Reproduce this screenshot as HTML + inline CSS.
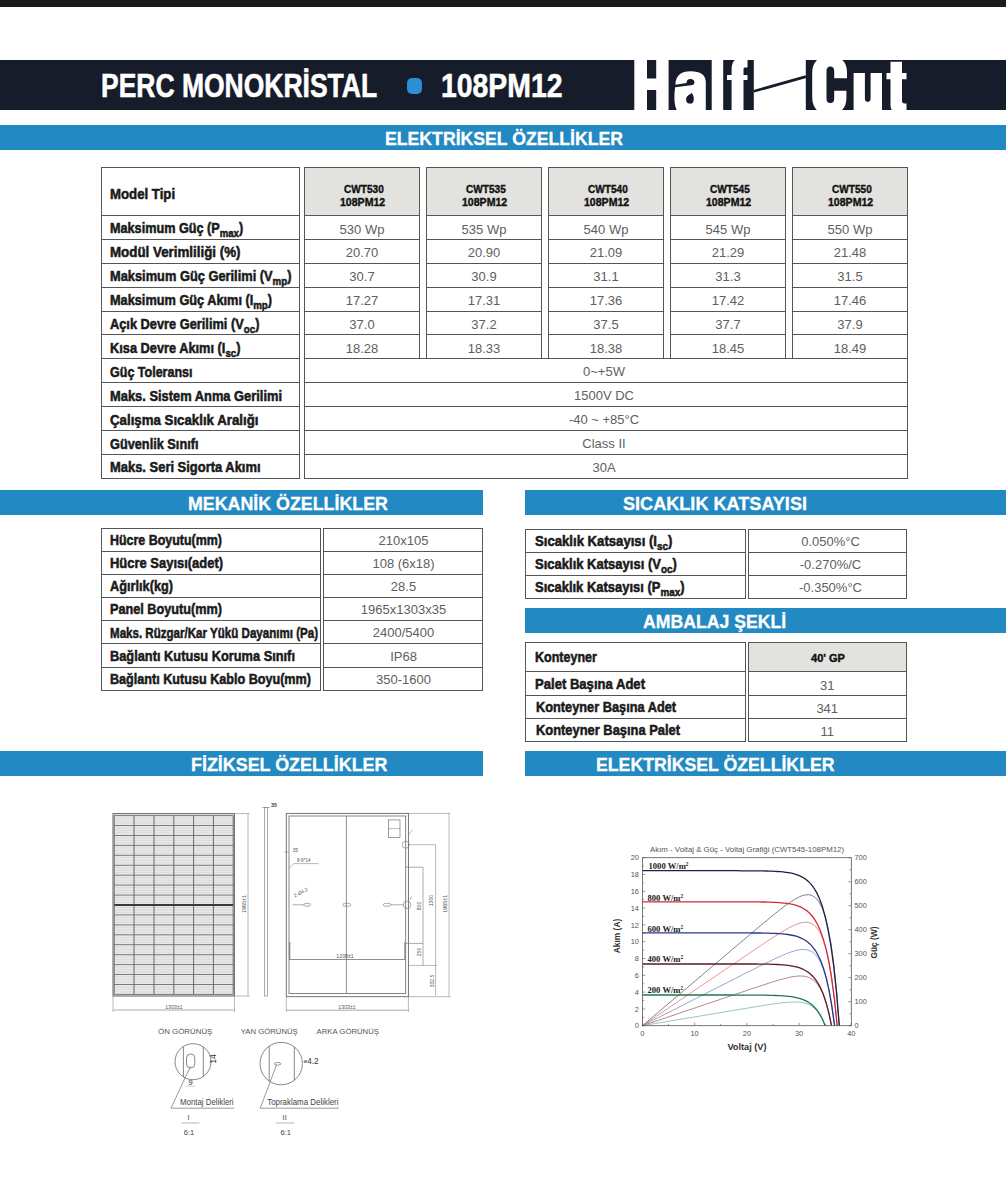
<!DOCTYPE html>
<html><head><meta charset="utf-8"><title>PERC Monokristal 108PM12</title>
<style>
html,body{margin:0;padding:0;background:#fff}
body{width:1006px;height:1200px;position:relative;overflow:hidden;font-family:"Liberation Sans",sans-serif}
.a{position:absolute}
.t{white-space:nowrap;display:inline-block;transform-origin:0 50%}
.c{text-align:center;white-space:nowrap}
sub{font-size:76%;vertical-align:baseline;position:relative;top:0.34em;line-height:0}
</style></head><body>
<div class="a" style="left:0px;top:0px;width:1006px;height:7px;background:#1b1b1b;"></div>
<div class="a" style="left:0px;top:60px;width:1006px;height:50px;background:#161c29;"></div>
<div class="a" style="left:0px;top:125px;width:1006px;height:25px;background:#2289c2;"></div>
<div class="a" style="left:406.5px;top:77.5px;width:15.5px;height:16px;background:#2a8fd4;border-radius:5px;"></div>
<div class="a" style="left:0px;top:490.2px;width:483px;height:25px;background:#2289c2;"></div>
<div class="a" style="left:525px;top:490.2px;width:481px;height:25px;background:#2289c2;"></div>
<div class="a" style="left:525px;top:608.3px;width:481px;height:25.2px;background:#2289c2;"></div>
<div class="a" style="left:0px;top:751.4px;width:483px;height:25px;background:#2289c2;"></div>
<div class="a" style="left:525px;top:751.4px;width:481px;height:25px;background:#2289c2;"></div>
<div class="a" style="left:101px;top:166.7px;width:199px;height:312.09999999999997px;border:1px solid #555;box-sizing:border-box;"></div>
<div class="a" style="left:101px;top:214.9px;width:199px;height:1px;background:#555;"></div>
<div class="a" style="left:101px;top:238.8px;width:199px;height:1px;background:#555;"></div>
<div class="a" style="left:101px;top:262.7px;width:199px;height:1px;background:#555;"></div>
<div class="a" style="left:101px;top:286.6px;width:199px;height:1px;background:#555;"></div>
<div class="a" style="left:101px;top:310.5px;width:199px;height:1px;background:#555;"></div>
<div class="a" style="left:101px;top:334.4px;width:199px;height:1px;background:#555;"></div>
<div class="a" style="left:101px;top:358.29999999999995px;width:199px;height:1px;background:#555;"></div>
<div class="a" style="left:101px;top:382.2px;width:199px;height:1px;background:#555;"></div>
<div class="a" style="left:101px;top:406.1px;width:199px;height:1px;background:#555;"></div>
<div class="a" style="left:101px;top:430.0px;width:199px;height:1px;background:#555;"></div>
<div class="a" style="left:101px;top:453.9px;width:199px;height:1px;background:#555;"></div>
<div class="a" style="left:304px;top:166.7px;width:116px;height:192.59999999999997px;border:1px solid #555;box-sizing:border-box;"></div>
<div class="a" style="left:304px;top:166.7px;width:116px;height:49.20000000000002px;background:#e2e2de;border:1px solid #555;box-sizing:border-box;"></div>
<div class="a" style="left:304px;top:238.8px;width:116px;height:1px;background:#555;"></div>
<div class="a" style="left:304px;top:262.7px;width:116px;height:1px;background:#555;"></div>
<div class="a" style="left:304px;top:286.6px;width:116px;height:1px;background:#555;"></div>
<div class="a" style="left:304px;top:310.5px;width:116px;height:1px;background:#555;"></div>
<div class="a" style="left:304px;top:334.4px;width:116px;height:1px;background:#555;"></div>
<div class="a c" style="left:304px;width:116px;top:220.5px;line-height:17px;font-size:13px;color:#606060">530 Wp</div>
<div class="a c" style="left:304px;width:116px;top:244.4px;line-height:17px;font-size:13px;color:#606060">20.70</div>
<div class="a c" style="left:304px;width:116px;top:268.3px;line-height:17px;font-size:13px;color:#606060">30.7</div>
<div class="a c" style="left:304px;width:116px;top:292.2px;line-height:17px;font-size:13px;color:#606060">17.27</div>
<div class="a c" style="left:304px;width:116px;top:316.1px;line-height:17px;font-size:13px;color:#606060">37.0</div>
<div class="a c" style="left:304px;width:116px;top:340.0px;line-height:17px;font-size:13px;color:#606060">18.28</div>
<div class="a" style="left:426px;top:166.7px;width:116px;height:192.59999999999997px;border:1px solid #555;box-sizing:border-box;"></div>
<div class="a" style="left:426px;top:166.7px;width:116px;height:49.20000000000002px;background:#e2e2de;border:1px solid #555;box-sizing:border-box;"></div>
<div class="a" style="left:426px;top:238.8px;width:116px;height:1px;background:#555;"></div>
<div class="a" style="left:426px;top:262.7px;width:116px;height:1px;background:#555;"></div>
<div class="a" style="left:426px;top:286.6px;width:116px;height:1px;background:#555;"></div>
<div class="a" style="left:426px;top:310.5px;width:116px;height:1px;background:#555;"></div>
<div class="a" style="left:426px;top:334.4px;width:116px;height:1px;background:#555;"></div>
<div class="a c" style="left:426px;width:116px;top:220.5px;line-height:17px;font-size:13px;color:#606060">535 Wp</div>
<div class="a c" style="left:426px;width:116px;top:244.4px;line-height:17px;font-size:13px;color:#606060">20.90</div>
<div class="a c" style="left:426px;width:116px;top:268.3px;line-height:17px;font-size:13px;color:#606060">30.9</div>
<div class="a c" style="left:426px;width:116px;top:292.2px;line-height:17px;font-size:13px;color:#606060">17.31</div>
<div class="a c" style="left:426px;width:116px;top:316.1px;line-height:17px;font-size:13px;color:#606060">37.2</div>
<div class="a c" style="left:426px;width:116px;top:340.0px;line-height:17px;font-size:13px;color:#606060">18.33</div>
<div class="a" style="left:548px;top:166.7px;width:116px;height:192.59999999999997px;border:1px solid #555;box-sizing:border-box;"></div>
<div class="a" style="left:548px;top:166.7px;width:116px;height:49.20000000000002px;background:#e2e2de;border:1px solid #555;box-sizing:border-box;"></div>
<div class="a" style="left:548px;top:238.8px;width:116px;height:1px;background:#555;"></div>
<div class="a" style="left:548px;top:262.7px;width:116px;height:1px;background:#555;"></div>
<div class="a" style="left:548px;top:286.6px;width:116px;height:1px;background:#555;"></div>
<div class="a" style="left:548px;top:310.5px;width:116px;height:1px;background:#555;"></div>
<div class="a" style="left:548px;top:334.4px;width:116px;height:1px;background:#555;"></div>
<div class="a c" style="left:548px;width:116px;top:220.5px;line-height:17px;font-size:13px;color:#606060">540 Wp</div>
<div class="a c" style="left:548px;width:116px;top:244.4px;line-height:17px;font-size:13px;color:#606060">21.09</div>
<div class="a c" style="left:548px;width:116px;top:268.3px;line-height:17px;font-size:13px;color:#606060">31.1</div>
<div class="a c" style="left:548px;width:116px;top:292.2px;line-height:17px;font-size:13px;color:#606060">17.36</div>
<div class="a c" style="left:548px;width:116px;top:316.1px;line-height:17px;font-size:13px;color:#606060">37.5</div>
<div class="a c" style="left:548px;width:116px;top:340.0px;line-height:17px;font-size:13px;color:#606060">18.38</div>
<div class="a" style="left:670px;top:166.7px;width:116px;height:192.59999999999997px;border:1px solid #555;box-sizing:border-box;"></div>
<div class="a" style="left:670px;top:166.7px;width:116px;height:49.20000000000002px;background:#e2e2de;border:1px solid #555;box-sizing:border-box;"></div>
<div class="a" style="left:670px;top:238.8px;width:116px;height:1px;background:#555;"></div>
<div class="a" style="left:670px;top:262.7px;width:116px;height:1px;background:#555;"></div>
<div class="a" style="left:670px;top:286.6px;width:116px;height:1px;background:#555;"></div>
<div class="a" style="left:670px;top:310.5px;width:116px;height:1px;background:#555;"></div>
<div class="a" style="left:670px;top:334.4px;width:116px;height:1px;background:#555;"></div>
<div class="a c" style="left:670px;width:116px;top:220.5px;line-height:17px;font-size:13px;color:#606060">545 Wp</div>
<div class="a c" style="left:670px;width:116px;top:244.4px;line-height:17px;font-size:13px;color:#606060">21.29</div>
<div class="a c" style="left:670px;width:116px;top:268.3px;line-height:17px;font-size:13px;color:#606060">31.3</div>
<div class="a c" style="left:670px;width:116px;top:292.2px;line-height:17px;font-size:13px;color:#606060">17.42</div>
<div class="a c" style="left:670px;width:116px;top:316.1px;line-height:17px;font-size:13px;color:#606060">37.7</div>
<div class="a c" style="left:670px;width:116px;top:340.0px;line-height:17px;font-size:13px;color:#606060">18.45</div>
<div class="a" style="left:792px;top:166.7px;width:116px;height:192.59999999999997px;border:1px solid #555;box-sizing:border-box;"></div>
<div class="a" style="left:792px;top:166.7px;width:116px;height:49.20000000000002px;background:#e2e2de;border:1px solid #555;box-sizing:border-box;"></div>
<div class="a" style="left:792px;top:238.8px;width:116px;height:1px;background:#555;"></div>
<div class="a" style="left:792px;top:262.7px;width:116px;height:1px;background:#555;"></div>
<div class="a" style="left:792px;top:286.6px;width:116px;height:1px;background:#555;"></div>
<div class="a" style="left:792px;top:310.5px;width:116px;height:1px;background:#555;"></div>
<div class="a" style="left:792px;top:334.4px;width:116px;height:1px;background:#555;"></div>
<div class="a c" style="left:792px;width:116px;top:220.5px;line-height:17px;font-size:13px;color:#606060">550 Wp</div>
<div class="a c" style="left:792px;width:116px;top:244.4px;line-height:17px;font-size:13px;color:#606060">21.48</div>
<div class="a c" style="left:792px;width:116px;top:268.3px;line-height:17px;font-size:13px;color:#606060">31.5</div>
<div class="a c" style="left:792px;width:116px;top:292.2px;line-height:17px;font-size:13px;color:#606060">17.46</div>
<div class="a c" style="left:792px;width:116px;top:316.1px;line-height:17px;font-size:13px;color:#606060">37.9</div>
<div class="a c" style="left:792px;width:116px;top:340.0px;line-height:17px;font-size:13px;color:#606060">18.49</div>
<div class="a" style="left:304px;top:358.29999999999995px;width:604px;height:120.5px;border:1px solid #555;box-sizing:border-box;"></div>
<div class="a" style="left:304px;top:382.2px;width:604px;height:1px;background:#555;"></div>
<div class="a" style="left:304px;top:406.1px;width:604px;height:1px;background:#555;"></div>
<div class="a" style="left:304px;top:430.0px;width:604px;height:1px;background:#555;"></div>
<div class="a" style="left:304px;top:453.9px;width:604px;height:1px;background:#555;"></div>
<div class="a c" style="left:302px;width:604px;top:363.3px;line-height:17px;font-size:13px;color:#606060">0~+5W</div>
<div class="a c" style="left:302px;width:604px;top:387.2px;line-height:17px;font-size:13px;color:#606060">1500V DC</div>
<div class="a c" style="left:302px;width:604px;top:411.1px;line-height:17px;font-size:13px;color:#606060">-40 ~ +85°C</div>
<div class="a c" style="left:302px;width:604px;top:435.0px;line-height:17px;font-size:13px;color:#606060">Class II</div>
<div class="a c" style="left:302px;width:604px;top:458.9px;line-height:17px;font-size:13px;color:#606060">30A</div>
<div class="a" style="left:101px;top:528px;width:220px;height:163px;border:1px solid #555;box-sizing:border-box;"></div>
<div class="a" style="left:323.3px;top:528px;width:160.2px;height:163px;border:1px solid #555;box-sizing:border-box;"></div>
<div class="a" style="left:101px;top:550.7px;width:220px;height:1px;background:#555;"></div>
<div class="a" style="left:323.3px;top:550.7px;width:160.2px;height:1px;background:#555;"></div>
<div class="a" style="left:101px;top:573.8px;width:220px;height:1px;background:#555;"></div>
<div class="a" style="left:323.3px;top:573.8px;width:160.2px;height:1px;background:#555;"></div>
<div class="a" style="left:101px;top:597.0px;width:220px;height:1px;background:#555;"></div>
<div class="a" style="left:323.3px;top:597.0px;width:160.2px;height:1px;background:#555;"></div>
<div class="a" style="left:101px;top:620.3px;width:220px;height:1px;background:#555;"></div>
<div class="a" style="left:323.3px;top:620.3px;width:160.2px;height:1px;background:#555;"></div>
<div class="a" style="left:101px;top:643.4px;width:220px;height:1px;background:#555;"></div>
<div class="a" style="left:323.3px;top:643.4px;width:160.2px;height:1px;background:#555;"></div>
<div class="a" style="left:101px;top:666.5px;width:220px;height:1px;background:#555;"></div>
<div class="a" style="left:323.3px;top:666.5px;width:160.2px;height:1px;background:#555;"></div>
<div class="a c" style="left:323.5px;width:160.0px;top:531.8px;line-height:17px;font-size:13px;color:#606060">210x105</div>
<div class="a c" style="left:323.5px;width:160.0px;top:554.9px;line-height:17px;font-size:13px;color:#606060">108 (6x18)</div>
<div class="a c" style="left:323.5px;width:160.0px;top:578.0px;line-height:17px;font-size:13px;color:#606060">28.5</div>
<div class="a c" style="left:323.5px;width:160.0px;top:601.2px;line-height:17px;font-size:13px;color:#606060">1965x1303x35</div>
<div class="a c" style="left:323.5px;width:160.0px;top:624.4px;line-height:17px;font-size:13px;color:#606060">2400/5400</div>
<div class="a c" style="left:323.5px;width:160.0px;top:647.6px;line-height:17px;font-size:13px;color:#606060">IP68</div>
<div class="a c" style="left:323.5px;width:160.0px;top:670.7px;line-height:17px;font-size:13px;color:#606060">350-1600</div>
<div class="a" style="left:525px;top:528.6px;width:220.5px;height:70.6px;border:1px solid #555;box-sizing:border-box;"></div>
<div class="a" style="left:747.5px;top:528.6px;width:159.5px;height:70.6px;border:1px solid #555;box-sizing:border-box;"></div>
<div class="a" style="left:525px;top:551.9px;width:220.5px;height:1px;background:#555;"></div>
<div class="a" style="left:747.5px;top:551.9px;width:159.5px;height:1px;background:#555;"></div>
<div class="a" style="left:525px;top:575.0px;width:220.5px;height:1px;background:#555;"></div>
<div class="a" style="left:747.5px;top:575.0px;width:159.5px;height:1px;background:#555;"></div>
<div class="a c" style="left:753.5px;width:154.0px;top:532.8px;line-height:17px;font-size:13px;color:#606060">0.050%°C</div>
<div class="a c" style="left:753.5px;width:154.0px;top:556.1px;line-height:17px;font-size:13px;color:#606060">-0.270%/C</div>
<div class="a c" style="left:753.5px;width:154.0px;top:579.1px;line-height:17px;font-size:13px;color:#606060">-0.350%°C</div>
<div class="a" style="left:525px;top:641.8px;width:220.5px;height:100.2px;border:1px solid #555;box-sizing:border-box;"></div>
<div class="a" style="left:747.5px;top:641.8px;width:159.5px;height:100.2px;border:1px solid #555;box-sizing:border-box;"></div>
<div class="a" style="left:747.5px;top:641.8px;width:159.5px;height:30.4px;background:#e2e2de;border:1px solid #555;box-sizing:border-box;"></div>
<div class="a" style="left:525px;top:671.2px;width:220.5px;height:1px;background:#555;"></div>
<div class="a" style="left:747.5px;top:671.2px;width:159.5px;height:1px;background:#555;"></div>
<div class="a" style="left:525px;top:694.7px;width:220.5px;height:1px;background:#555;"></div>
<div class="a" style="left:747.5px;top:694.7px;width:159.5px;height:1px;background:#555;"></div>
<div class="a" style="left:525px;top:717.7px;width:220.5px;height:1px;background:#555;"></div>
<div class="a" style="left:747.5px;top:717.7px;width:159.5px;height:1px;background:#555;"></div>
<div class="a c" style="left:747.5px;width:159.5px;top:676.5px;line-height:17px;font-size:13px;color:#606060">31</div>
<div class="a c" style="left:747.5px;width:159.5px;top:699.7px;line-height:17px;font-size:13px;color:#606060">341</div>
<div class="a c" style="left:747.5px;width:159.5px;top:722.8px;line-height:17px;font-size:13px;color:#606060">11</div>
<span class="a t" style="left:101px;top:65.1px;line-height:41px;font-size:34px;transform:scaleX(0.779);font-weight:bold;color:#fff;-webkit-text-stroke:0.6px #fff">PERC MONOKRİSTAL</span>
<span class="a t" style="left:440.5px;top:65.1px;line-height:41px;font-size:34px;transform:scaleX(0.835);font-weight:bold;color:#fff;-webkit-text-stroke:0.6px #fff">108PM12</span>
<span class="a t" style="left:385px;top:128.8px;line-height:21px;font-size:17.5px;transform:scaleX(1.009);font-weight:bold;color:#fff;-webkit-text-stroke:0.3px #fff">ELEKTRİKSEL ÖZELLİKLER</span>
<span class="a t" style="left:188px;top:493.9px;line-height:21px;font-size:17.5px;transform:scaleX(1.018);font-weight:bold;color:#fff;-webkit-text-stroke:0.3px #fff">MEKANİK ÖZELLİKLER</span>
<span class="a t" style="left:623px;top:493.9px;line-height:21px;font-size:17.5px;transform:scaleX(1.034);font-weight:bold;color:#fff;-webkit-text-stroke:0.3px #fff">SICAKLIK KATSAYISI</span>
<span class="a t" style="left:642.5px;top:612.1px;line-height:21px;font-size:17.5px;transform:scaleX(1.009);font-weight:bold;color:#fff;-webkit-text-stroke:0.3px #fff">AMBALAJ ŞEKLİ</span>
<span class="a t" style="left:190.5px;top:755.1px;line-height:21px;font-size:17.5px;transform:scaleX(1.022);font-weight:bold;color:#fff;-webkit-text-stroke:0.3px #fff">FİZİKSEL ÖZELLİKLER</span>
<span class="a t" style="left:596px;top:755.1px;line-height:21px;font-size:17.5px;transform:scaleX(1.011);font-weight:bold;color:#fff;-webkit-text-stroke:0.3px #fff">ELEKTRİKSEL ÖZELLİKLER</span>
<span class="a t" style="left:343.8px;top:181.6px;line-height:14px;font-size:11.5px;transform:scaleX(0.877);font-weight:bold;color:#111;-webkit-text-stroke:0.4px #111">CWT530</span>
<span class="a t" style="left:339.6px;top:194.8px;line-height:14px;font-size:11.5px;transform:scaleX(0.918);font-weight:bold;color:#111;-webkit-text-stroke:0.4px #111">108PM12</span>
<span class="a t" style="left:465.8px;top:181.6px;line-height:14px;font-size:11.5px;transform:scaleX(0.877);font-weight:bold;color:#111;-webkit-text-stroke:0.4px #111">CWT535</span>
<span class="a t" style="left:461.6px;top:194.8px;line-height:14px;font-size:11.5px;transform:scaleX(0.918);font-weight:bold;color:#111;-webkit-text-stroke:0.4px #111">108PM12</span>
<span class="a t" style="left:587.8px;top:181.6px;line-height:14px;font-size:11.5px;transform:scaleX(0.877);font-weight:bold;color:#111;-webkit-text-stroke:0.4px #111">CWT540</span>
<span class="a t" style="left:583.6px;top:194.8px;line-height:14px;font-size:11.5px;transform:scaleX(0.918);font-weight:bold;color:#111;-webkit-text-stroke:0.4px #111">108PM12</span>
<span class="a t" style="left:709.8px;top:181.6px;line-height:14px;font-size:11.5px;transform:scaleX(0.877);font-weight:bold;color:#111;-webkit-text-stroke:0.4px #111">CWT545</span>
<span class="a t" style="left:705.6px;top:194.8px;line-height:14px;font-size:11.5px;transform:scaleX(0.918);font-weight:bold;color:#111;-webkit-text-stroke:0.4px #111">108PM12</span>
<span class="a t" style="left:831.8px;top:181.6px;line-height:14px;font-size:11.5px;transform:scaleX(0.877);font-weight:bold;color:#111;-webkit-text-stroke:0.4px #111">CWT550</span>
<span class="a t" style="left:827.6px;top:194.8px;line-height:14px;font-size:11.5px;transform:scaleX(0.918);font-weight:bold;color:#111;-webkit-text-stroke:0.4px #111">108PM12</span>
<span class="a t" style="left:109.5px;top:184.5px;line-height:18px;font-size:15.3px;transform:scaleX(0.864);font-weight:bold;color:#1a1a1a;-webkit-text-stroke:0.55px #1a1a1a">Model Tipi</span>
<span class="a t" style="left:109.5px;top:219.4px;line-height:18px;font-size:15.3px;transform:scaleX(0.827);font-weight:bold;color:#1a1a1a;-webkit-text-stroke:0.55px #1a1a1a">Maksimum Güç (P<sub>max</sub>)</span>
<span class="a t" style="left:109.5px;top:243.3px;line-height:18px;font-size:15.3px;transform:scaleX(0.872);font-weight:bold;color:#1a1a1a;-webkit-text-stroke:0.55px #1a1a1a">Modül Verimliliği (%)</span>
<span class="a t" style="left:109.5px;top:267.2px;line-height:18px;font-size:15.3px;transform:scaleX(0.839);font-weight:bold;color:#1a1a1a;-webkit-text-stroke:0.55px #1a1a1a">Maksimum Güç Gerilimi (V<sub>mp</sub>)</span>
<span class="a t" style="left:109.5px;top:291.1px;line-height:18px;font-size:15.3px;transform:scaleX(0.833);font-weight:bold;color:#1a1a1a;-webkit-text-stroke:0.55px #1a1a1a">Maksimum Güç Akımı (I<sub>mp</sub>)</span>
<span class="a t" style="left:109.5px;top:315.0px;line-height:18px;font-size:15.3px;transform:scaleX(0.837);font-weight:bold;color:#1a1a1a;-webkit-text-stroke:0.55px #1a1a1a">Açık Devre Gerilimi (V<sub>oc</sub>)</span>
<span class="a t" style="left:109.5px;top:338.9px;line-height:18px;font-size:15.3px;transform:scaleX(0.836);font-weight:bold;color:#1a1a1a;-webkit-text-stroke:0.55px #1a1a1a">Kısa Devre Akımı (I<sub>sc</sub>)</span>
<span class="a t" style="left:109.5px;top:362.8px;line-height:18px;font-size:15.3px;transform:scaleX(0.818);font-weight:bold;color:#1a1a1a;-webkit-text-stroke:0.55px #1a1a1a">Güç Toleransı</span>
<span class="a t" style="left:109.5px;top:386.7px;line-height:18px;font-size:15.3px;transform:scaleX(0.842);font-weight:bold;color:#1a1a1a;-webkit-text-stroke:0.55px #1a1a1a">Maks. Sistem Anma Gerilimi</span>
<span class="a t" style="left:109.5px;top:410.6px;line-height:18px;font-size:15.3px;transform:scaleX(0.867);font-weight:bold;color:#1a1a1a;-webkit-text-stroke:0.55px #1a1a1a">Çalışma Sıcaklık Aralığı</span>
<span class="a t" style="left:109.5px;top:434.5px;line-height:18px;font-size:15.3px;transform:scaleX(0.833);font-weight:bold;color:#1a1a1a;-webkit-text-stroke:0.55px #1a1a1a">Güvenlik Sınıfı</span>
<span class="a t" style="left:109.5px;top:458.4px;line-height:18px;font-size:15.3px;transform:scaleX(0.846);font-weight:bold;color:#1a1a1a;-webkit-text-stroke:0.55px #1a1a1a">Maks. Seri Sigorta Akımı</span>
<span class="a t" style="left:110px;top:531.0px;line-height:18px;font-size:15.3px;transform:scaleX(0.813);font-weight:bold;color:#1a1a1a;-webkit-text-stroke:0.55px #1a1a1a">Hücre Boyutu(mm)</span>
<span class="a t" style="left:110px;top:554.0px;line-height:18px;font-size:15.3px;transform:scaleX(0.847);font-weight:bold;color:#1a1a1a;-webkit-text-stroke:0.55px #1a1a1a">Hücre Sayısı(adet)</span>
<span class="a t" style="left:110px;top:577.2px;line-height:18px;font-size:15.3px;transform:scaleX(0.833);font-weight:bold;color:#1a1a1a;-webkit-text-stroke:0.55px #1a1a1a">Ağırlık(kg)</span>
<span class="a t" style="left:110px;top:600.4px;line-height:18px;font-size:15.3px;transform:scaleX(0.829);font-weight:bold;color:#1a1a1a;-webkit-text-stroke:0.55px #1a1a1a">Panel Boyutu(mm)</span>
<span class="a t" style="left:110px;top:623.6px;line-height:18px;font-size:15.3px;transform:scaleX(0.756);font-weight:bold;color:#1a1a1a;-webkit-text-stroke:0.55px #1a1a1a">Maks. Rüzgar/Kar Yükü Dayanımı (Pa)</span>
<span class="a t" style="left:110px;top:646.8px;line-height:18px;font-size:15.3px;transform:scaleX(0.837);font-weight:bold;color:#1a1a1a;-webkit-text-stroke:0.55px #1a1a1a">Bağlantı Kutusu Koruma Sınıfı</span>
<span class="a t" style="left:110px;top:669.9px;line-height:18px;font-size:15.3px;transform:scaleX(0.824);font-weight:bold;color:#1a1a1a;-webkit-text-stroke:0.55px #1a1a1a">Bağlantı Kutusu Kablo Boyu(mm)</span>
<span class="a t" style="left:535px;top:532.0px;line-height:18px;font-size:15.3px;transform:scaleX(0.859);font-weight:bold;color:#1a1a1a;-webkit-text-stroke:0.55px #1a1a1a">Sıcaklık Katsayısı (I<sub>sc</sub>)</span>
<span class="a t" style="left:535px;top:555.2px;line-height:18px;font-size:15.3px;transform:scaleX(0.851);font-weight:bold;color:#1a1a1a;-webkit-text-stroke:0.55px #1a1a1a">Sıcaklık Katsayısı (V<sub>oc</sub>)</span>
<span class="a t" style="left:535px;top:578.3px;line-height:18px;font-size:15.3px;transform:scaleX(0.848);font-weight:bold;color:#1a1a1a;-webkit-text-stroke:0.55px #1a1a1a">Sıcaklık Katsayısı (P<sub>max</sub>)</span>
<span class="a t" style="left:535px;top:648.3px;line-height:18px;font-size:15.3px;transform:scaleX(0.819);font-weight:bold;color:#1a1a1a;-webkit-text-stroke:0.55px #1a1a1a">Konteyner</span>
<span class="a t" style="left:811px;top:651.0px;line-height:14px;font-size:11.5px;transform:scaleX(0.962);font-weight:bold;color:#111;-webkit-text-stroke:0.4px #111">40' GP</span>
<span class="a t" style="left:535px;top:674.8px;line-height:18px;font-size:15.3px;transform:scaleX(0.855);font-weight:bold;color:#1a1a1a;-webkit-text-stroke:0.55px #1a1a1a">Palet Başına Adet</span>
<span class="a t" style="left:536px;top:698.0px;line-height:18px;font-size:15.3px;transform:scaleX(0.835);font-weight:bold;color:#1a1a1a;-webkit-text-stroke:0.55px #1a1a1a">Konteyner Başına Adet</span>
<span class="a t" style="left:536px;top:721.1px;line-height:18px;font-size:15.3px;transform:scaleX(0.843);font-weight:bold;color:#1a1a1a;-webkit-text-stroke:0.55px #1a1a1a">Konteyner Başına Palet</span>
<svg class="a" style="left:620px;top:55px" width="300" height="60" viewBox="620 55 300 60">
<g fill="#fff">
<!-- H -->
<rect x="634.3" y="55" width="12.7" height="60"/>
<rect x="656.2" y="55" width="12.4" height="60"/>
<rect x="646" y="78.5" width="11" height="11.5"/>
<!-- a -->
<path d="M705.8 112 L705.8 82.5 C705.8 75 700.5 71.3 690.5 71.3 C681 71.3 675.6 75.6 675.4 84.7 L686.4 83.1 C686.6 80.6 687.8 79 690.4 79 C693 79 694.4 80.4 694.4 82.4 C694.4 84 693.4 85 691 85.3 L675.2 87.2 C674.4 92 674.3 97 674.5 100.4 C674.8 105 675.6 108.4 678 112 Z"/>
<!-- l -->
<rect x="711.7" y="55" width="11.5" height="60"/>
<!-- f -->
<path d="M731.6 112 L731.6 80 L727 80 L727 74.9 L731.6 74.9 L731.6 70 C731.6 62 734.5 58 741 58 L747.5 58 L747.5 67.4 L745.4 67.4 C744 67.4 743.5 68 743.5 69.6 L743.5 74.9 L747.5 74.9 L747.5 80 L743.5 80 L743.5 112 Z"/>
<!-- gap -->
<rect x="753.8" y="55" width="52" height="60"/>
<!-- C -->
<path d="M847 78.3 L847 72 C847 62 841 56 829.6 56 C818 56 812.2 62.5 812.2 73 L812.2 97 C812.2 108 818 114 829.6 114 C841 114 846.4 108 846.4 98 L846.4 90.8 L834.2 90.8 L834.2 98.5 C834.2 101.5 833 103 830.4 103 C827.8 103 826.5 101.5 826.5 98.5 L826.5 71 C826.5 68.2 827.8 66.6 830.4 66.6 C833 66.6 834.2 68.2 834.2 71 L834.2 78.3 Z"/>
<!-- u -->
<path d="M853.6 72.9 L864.9 72.9 L864.9 98.6 C864.9 100.8 865.9 101.9 867.7 101.9 C869.6 101.9 870.6 100.8 870.6 98.6 L870.6 72.9 L882 72.9 L882 112 L853.6 112 Z"/>
<!-- t -->
<path d="M890.5 61.8 L902 61.8 L902 72.9 L906.5 72.9 L906.5 79.3 L902 79.3 L902 100.5 C902 102.6 902.8 103.4 904.6 103.4 L906.5 103.4 L906.5 112 L897 112 C892.5 112 890.5 109.5 890.5 105 L890.5 79.3 L886.5 79.3 L886.5 72.9 L890.5 72.9 Z"/>
</g>
<!-- a counter -->
<path d="M691.8 93 C694.2 96 694 99.5 693.4 101.6 C692.6 103.8 690.6 104 689 103.6 C686.6 103 685.6 100.6 686.2 98.2 C686.8 95.8 689.4 94.6 691.8 93 Z" fill="#161c29"/>
<line x1="753.8" y1="91.3" x2="806" y2="76.6" stroke="#161c29" stroke-width="2.7"/>
<!-- clip whites outside band to white anyway (page is white) -->
</svg>
<svg class="a" style="left:100px;top:795px" width="370" height="350" viewBox="100 795 370 350" fill="none" font-family="Liberation Sans, sans-serif">
<rect x="113.0" y="813.6" width="121.4" height="182.4" stroke="#666" stroke-width="1.0" fill="#e9e9e9"/>
<path d="M114.2 818.1L233.2 818.1" stroke="#bdbdbd" stroke-width="0.35"/>
<path d="M114.2 820.6L233.2 820.6" stroke="#bdbdbd" stroke-width="0.35"/>
<path d="M114.2 823.0L233.2 823.0" stroke="#bdbdbd" stroke-width="0.35"/>
<path d="M114.2 828.0L233.2 828.0" stroke="#bdbdbd" stroke-width="0.35"/>
<path d="M114.2 830.5L233.2 830.5" stroke="#bdbdbd" stroke-width="0.35"/>
<path d="M114.2 833.0L233.2 833.0" stroke="#bdbdbd" stroke-width="0.35"/>
<path d="M114.2 838.0L233.2 838.0" stroke="#bdbdbd" stroke-width="0.35"/>
<path d="M114.2 840.4L233.2 840.4" stroke="#bdbdbd" stroke-width="0.35"/>
<path d="M114.2 842.9L233.2 842.9" stroke="#bdbdbd" stroke-width="0.35"/>
<path d="M114.2 847.9L233.2 847.9" stroke="#bdbdbd" stroke-width="0.35"/>
<path d="M114.2 850.4L233.2 850.4" stroke="#bdbdbd" stroke-width="0.35"/>
<path d="M114.2 852.9L233.2 852.9" stroke="#bdbdbd" stroke-width="0.35"/>
<path d="M114.2 857.8L233.2 857.8" stroke="#bdbdbd" stroke-width="0.35"/>
<path d="M114.2 860.3L233.2 860.3" stroke="#bdbdbd" stroke-width="0.35"/>
<path d="M114.2 862.8L233.2 862.8" stroke="#bdbdbd" stroke-width="0.35"/>
<path d="M114.2 867.8L233.2 867.8" stroke="#bdbdbd" stroke-width="0.35"/>
<path d="M114.2 870.2L233.2 870.2" stroke="#bdbdbd" stroke-width="0.35"/>
<path d="M114.2 872.7L233.2 872.7" stroke="#bdbdbd" stroke-width="0.35"/>
<path d="M114.2 877.7L233.2 877.7" stroke="#bdbdbd" stroke-width="0.35"/>
<path d="M114.2 880.2L233.2 880.2" stroke="#bdbdbd" stroke-width="0.35"/>
<path d="M114.2 882.6L233.2 882.6" stroke="#bdbdbd" stroke-width="0.35"/>
<path d="M114.2 887.6L233.2 887.6" stroke="#bdbdbd" stroke-width="0.35"/>
<path d="M114.2 890.1L233.2 890.1" stroke="#bdbdbd" stroke-width="0.35"/>
<path d="M114.2 892.6L233.2 892.6" stroke="#bdbdbd" stroke-width="0.35"/>
<path d="M114.2 897.5L233.2 897.5" stroke="#bdbdbd" stroke-width="0.35"/>
<path d="M114.2 900.0L233.2 900.0" stroke="#bdbdbd" stroke-width="0.35"/>
<path d="M114.2 902.5L233.2 902.5" stroke="#bdbdbd" stroke-width="0.35"/>
<path d="M114.2 907.5L233.2 907.5" stroke="#bdbdbd" stroke-width="0.35"/>
<path d="M114.2 910.0L233.2 910.0" stroke="#bdbdbd" stroke-width="0.35"/>
<path d="M114.2 912.4L233.2 912.4" stroke="#bdbdbd" stroke-width="0.35"/>
<path d="M114.2 917.4L233.2 917.4" stroke="#bdbdbd" stroke-width="0.35"/>
<path d="M114.2 919.9L233.2 919.9" stroke="#bdbdbd" stroke-width="0.35"/>
<path d="M114.2 922.4L233.2 922.4" stroke="#bdbdbd" stroke-width="0.35"/>
<path d="M114.2 927.4L233.2 927.4" stroke="#bdbdbd" stroke-width="0.35"/>
<path d="M114.2 929.8L233.2 929.8" stroke="#bdbdbd" stroke-width="0.35"/>
<path d="M114.2 932.3L233.2 932.3" stroke="#bdbdbd" stroke-width="0.35"/>
<path d="M114.2 937.3L233.2 937.3" stroke="#bdbdbd" stroke-width="0.35"/>
<path d="M114.2 939.8L233.2 939.8" stroke="#bdbdbd" stroke-width="0.35"/>
<path d="M114.2 942.2L233.2 942.2" stroke="#bdbdbd" stroke-width="0.35"/>
<path d="M114.2 947.2L233.2 947.2" stroke="#bdbdbd" stroke-width="0.35"/>
<path d="M114.2 949.7L233.2 949.7" stroke="#bdbdbd" stroke-width="0.35"/>
<path d="M114.2 952.2L233.2 952.2" stroke="#bdbdbd" stroke-width="0.35"/>
<path d="M114.2 957.1L233.2 957.1" stroke="#bdbdbd" stroke-width="0.35"/>
<path d="M114.2 959.6L233.2 959.6" stroke="#bdbdbd" stroke-width="0.35"/>
<path d="M114.2 962.1L233.2 962.1" stroke="#bdbdbd" stroke-width="0.35"/>
<path d="M114.2 967.1L233.2 967.1" stroke="#bdbdbd" stroke-width="0.35"/>
<path d="M114.2 969.6L233.2 969.6" stroke="#bdbdbd" stroke-width="0.35"/>
<path d="M114.2 972.0L233.2 972.0" stroke="#bdbdbd" stroke-width="0.35"/>
<path d="M114.2 977.0L233.2 977.0" stroke="#bdbdbd" stroke-width="0.35"/>
<path d="M114.2 979.5L233.2 979.5" stroke="#bdbdbd" stroke-width="0.35"/>
<path d="M114.2 982.0L233.2 982.0" stroke="#bdbdbd" stroke-width="0.35"/>
<path d="M114.2 987.0L233.2 987.0" stroke="#bdbdbd" stroke-width="0.35"/>
<path d="M114.2 989.4L233.2 989.4" stroke="#bdbdbd" stroke-width="0.35"/>
<path d="M114.2 991.9L233.2 991.9" stroke="#bdbdbd" stroke-width="0.35"/>
<path d="M114.2 815.6L114.2 994.4" stroke="#5c5c5c" stroke-width="0.9"/>
<path d="M134.0 815.6L134.0 994.4" stroke="#5c5c5c" stroke-width="0.9"/>
<path d="M154.0 815.6L154.0 994.4" stroke="#5c5c5c" stroke-width="0.9"/>
<path d="M173.8 815.6L173.8 994.4" stroke="#5c5c5c" stroke-width="0.9"/>
<path d="M193.6 815.6L193.6 994.4" stroke="#5c5c5c" stroke-width="0.9"/>
<path d="M213.4 815.6L213.4 994.4" stroke="#5c5c5c" stroke-width="0.9"/>
<path d="M233.2 815.6L233.2 994.4" stroke="#5c5c5c" stroke-width="0.9"/>
<path d="M114.2 815.6L233.2 815.6" stroke="#5c5c5c" stroke-width="0.8"/>
<path d="M114.2 825.5L233.2 825.5" stroke="#5c5c5c" stroke-width="0.8"/>
<path d="M114.2 835.5L233.2 835.5" stroke="#5c5c5c" stroke-width="0.8"/>
<path d="M114.2 845.4L233.2 845.4" stroke="#5c5c5c" stroke-width="0.8"/>
<path d="M114.2 855.3L233.2 855.3" stroke="#5c5c5c" stroke-width="0.8"/>
<path d="M114.2 865.3L233.2 865.3" stroke="#5c5c5c" stroke-width="0.8"/>
<path d="M114.2 875.2L233.2 875.2" stroke="#5c5c5c" stroke-width="0.8"/>
<path d="M114.2 885.1L233.2 885.1" stroke="#5c5c5c" stroke-width="0.8"/>
<path d="M114.2 895.1L233.2 895.1" stroke="#5c5c5c" stroke-width="0.8"/>
<path d="M114.2 905.0L233.2 905.0" stroke="#3a3a3a" stroke-width="1.8"/>
<path d="M114.2 914.9L233.2 914.9" stroke="#5c5c5c" stroke-width="0.8"/>
<path d="M114.2 924.9L233.2 924.9" stroke="#5c5c5c" stroke-width="0.8"/>
<path d="M114.2 934.8L233.2 934.8" stroke="#5c5c5c" stroke-width="0.8"/>
<path d="M114.2 944.7L233.2 944.7" stroke="#5c5c5c" stroke-width="0.8"/>
<path d="M114.2 954.7L233.2 954.7" stroke="#5c5c5c" stroke-width="0.8"/>
<path d="M114.2 964.6L233.2 964.6" stroke="#5c5c5c" stroke-width="0.8"/>
<path d="M114.2 974.5L233.2 974.5" stroke="#5c5c5c" stroke-width="0.8"/>
<path d="M114.2 984.5L233.2 984.5" stroke="#5c5c5c" stroke-width="0.8"/>
<path d="M114.2 994.4L233.2 994.4" stroke="#5c5c5c" stroke-width="0.8"/>
<path d="M234.4 813.6L249.5 813.6" stroke="#737373" stroke-width="0.5"/>
<path d="M234.4 996.0L249.5 996.0" stroke="#737373" stroke-width="0.5"/>
<path d="M248.0 813.6L248.0 996.0" stroke="#737373" stroke-width="0.5"/>
<text x="246.3" y="904.0" font-size="5.4" text-anchor="middle" fill="#555" transform="rotate(-90 246.3 904.0)">1965±1</text>
<path d="M113.0 996.0L113.0 1012.0" stroke="#737373" stroke-width="0.5"/>
<path d="M234.4 996.0L234.4 1012.0" stroke="#737373" stroke-width="0.5"/>
<path d="M113.0 1010.0L234.4 1010.0" stroke="#737373" stroke-width="0.6"/>
<text x="174.0" y="1008.5" font-size="5.2" text-anchor="middle" fill="#555">1303±1</text>
<rect x="264.6" y="807.5" width="2.8" height="188.5" stroke="#737373" stroke-width="0.6" fill="none"/>
<path d="M262.0 807.5L270.0 807.5" stroke="#737373" stroke-width="0.5"/>
<text x="274.0" y="806.5" font-size="5.5" text-anchor="middle" fill="#444" font-weight="bold">35</text>
<rect x="286.3" y="813.4" width="122.1" height="183.3" stroke="#666" stroke-width="0.9" fill="none"/>
<rect x="289.0" y="816.0" width="116.7" height="177.5" stroke="#666" stroke-width="0.8" fill="none"/>
<path d="M346.4 816.0L346.4 993.5" stroke="#737373" stroke-width="0.8"/>
<path d="M289.0 959.5L405.7 959.5" stroke="#737373" stroke-width="0.8"/>
<text x="345.0" y="958.0" font-size="5.2" text-anchor="middle" fill="#555">1208±1</text>
<rect x="388.6" y="819.9" width="11.4" height="17.7" stroke="#737373" stroke-width="0.7" fill="none"/>
<path d="M388.6 828.6L400.0 828.6" stroke="#737373" stroke-width="0.5"/>
<rect x="304" y="903.4" width="6.3" height="2.8" rx="1.4" stroke="#737373" stroke-width="0.6" fill="none"/>
<rect x="343" y="903.4" width="7.6" height="2.8" rx="1.4" stroke="#737373" stroke-width="0.6" fill="none"/>
<rect x="383.4" y="903.4" width="7.3" height="2.8" rx="1.4" stroke="#737373" stroke-width="0.6" fill="none"/>
<path d="M292.6 904.8L304.0 904.8" stroke="#737373" stroke-width="0.6"/>
<path d="M390.7 904.8L403.5 904.8" stroke="#737373" stroke-width="0.6"/>
<circle cx="407" cy="904.8" r="3.8" stroke="#737373" stroke-width="0.6" fill="none"/>
<circle cx="405.7" cy="844.7" r="3.5" stroke="#737373" stroke-width="0.6" fill="none"/>
<path d="M408.4 835.0L412.6 829.7" stroke="#737373" stroke-width="0.5"/>
<path d="M410.0 900.0L412.0 896.0" stroke="#737373" stroke-width="0.5"/>
<path d="M289.6 942.0L289.6 959.0" stroke="#888" stroke-width="1.4"/>
<path d="M405.0 942.0L405.0 959.0" stroke="#888" stroke-width="1.4"/>
<path d="M408.0 844.7L435.6 844.7" stroke="#737373" stroke-width="0.5"/>
<path d="M435.6 844.7L435.6 995.6" stroke="#737373" stroke-width="0.5"/>
<path d="M405.7 867.2L423.0 867.2" stroke="#737373" stroke-width="0.6"/>
<path d="M423.0 867.2L423.0 965.4" stroke="#737373" stroke-width="0.6"/>
<path d="M405.7 943.4L423.0 943.4" stroke="#737373" stroke-width="0.6"/>
<path d="M408.0 965.4L437.0 965.4" stroke="#737373" stroke-width="0.5"/>
<text x="421.0" y="906.0" font-size="5" text-anchor="middle" fill="#555" transform="rotate(-90 421.0 906.0)">800</text>
<text x="433.5" y="900.6" font-size="5" text-anchor="middle" fill="#555" transform="rotate(-90 433.5 900.6)">1300</text>
<text x="421.0" y="952.0" font-size="5" text-anchor="middle" fill="#555" transform="rotate(-90 421.0 952.0)">250</text>
<text x="433.5" y="981.0" font-size="5" text-anchor="middle" fill="#555" transform="rotate(-90 433.5 981.0)">332.5</text>
<path d="M408.4 813.4L450.5 813.4" stroke="#737373" stroke-width="0.5"/>
<path d="M408.4 996.7L450.5 996.7" stroke="#737373" stroke-width="0.5"/>
<path d="M449.0 813.4L449.0 996.7" stroke="#737373" stroke-width="0.5"/>
<text x="447.3" y="903.8" font-size="5.4" text-anchor="middle" fill="#555" transform="rotate(-90 447.3 903.8)">1965±1</text>
<path d="M286.3 996.7L286.3 1012.0" stroke="#737373" stroke-width="0.5"/>
<path d="M408.4 996.7L408.4 1012.0" stroke="#737373" stroke-width="0.5"/>
<path d="M286.3 1010.2L408.4 1010.2" stroke="#737373" stroke-width="0.6"/>
<text x="347.0" y="1008.7" font-size="5.2" text-anchor="middle" fill="#555">1303±1</text>
<text x="292.5" y="852.3" font-size="5" text-anchor="start" fill="#555">35</text>
<path d="M284.0 852.0L288.5 852.0" stroke="#737373" stroke-width="0.5"/>
<text x="297.0" y="862.0" font-size="4.6" text-anchor="start" fill="#555">8-9*14</text>
<path d="M289.4 868.0L294.0 863.6" stroke="#737373" stroke-width="0.5"/>
<path d="M294.0 863.6L318.7 863.6" stroke="#737373" stroke-width="0.5"/>
<text x="294.7" y="897.5" font-size="5" text-anchor="start" fill="#555" transform="rotate(-27 294.7 897.5)">2-Ø4.2</text>
<text x="158.0" y="1033.5" font-size="7.6" fill="#555" textLength="54.4" lengthAdjust="spacingAndGlyphs">ÖN GÖRÜNÜŞ</text>
<text x="240.8" y="1033.5" font-size="7.6" fill="#555" textLength="56.9" lengthAdjust="spacingAndGlyphs">YAN GÖRÜNÜŞ</text>
<text x="316.5" y="1033.5" font-size="7.6" fill="#555" textLength="62.5" lengthAdjust="spacingAndGlyphs">ARKA GÖRÜNÜŞ</text>
<circle cx="193" cy="1061.7" r="18" stroke="#555" stroke-width="0.7" fill="none"/>
<path d="M183.4 1046.5L183.4 1076.9" stroke="#555" stroke-width="0.7"/>
<path d="M203.3 1046.9L203.3 1076.5" stroke="#555" stroke-width="0.7"/>
<rect x="186.5" y="1054" width="8.3" height="14" rx="4" stroke="#555" stroke-width="0.7" fill="none"/>
<text x="216.0" y="1059.0" font-size="8.6" text-anchor="middle" fill="#333" transform="rotate(-90 216.0 1059.0)">14</text>
<text x="190.6" y="1085.2" font-size="8" text-anchor="middle" fill="#333">9</text>
<path d="M186.0 1086.2L195.0 1086.2" stroke="#888" stroke-width="0.4"/>
<path d="M190.4 1066.5L171.0 1108.2" stroke="#555" stroke-width="0.6"/>
<path d="M171.0 1108.2L234.3 1108.2" stroke="#555" stroke-width="0.6"/>
<text x="180.0" y="1104.8" font-size="8.2" fill="#444" textLength="53.6" lengthAdjust="spacingAndGlyphs">Montaj Delikleri</text>
<text x="188.6" y="1119.8" font-size="7.5" text-anchor="middle" fill="#444">I</text>
<path d="M181.4 1123.0L199.4 1123.0" stroke="#888" stroke-width="0.6"/>
<text x="189.0" y="1135.0" font-size="7.5" text-anchor="middle" fill="#444">6:1</text>
<circle cx="281.2" cy="1063.6" r="21.2" stroke="#555" stroke-width="0.7" fill="none"/>
<path d="M269.2 1046.1L269.2 1081.1" stroke="#555" stroke-width="0.7"/>
<path d="M294.3 1046.9L294.3 1080.3" stroke="#555" stroke-width="0.7"/>
<ellipse cx="277.5" cy="1063.8" rx="3.6" ry="1.3" stroke="#555" stroke-width="0.6" fill="none"/>
<text x="303.4" y="1062.6" font-size="6" text-anchor="start" fill="#444">ø</text>
<text x="307.2" y="1064.0" font-size="9.6" fill="#333" textLength="11.4" lengthAdjust="spacingAndGlyphs">4.2</text>
<path d="M276.5 1065.0L260.2 1108.2" stroke="#555" stroke-width="0.6"/>
<path d="M260.2 1108.2L339.0 1108.2" stroke="#555" stroke-width="0.6"/>
<text x="267.2" y="1104.8" font-size="8.2" fill="#444" textLength="71.3" lengthAdjust="spacingAndGlyphs">Topraklama Delikleri</text>
<text x="284.7" y="1119.8" font-size="7.5" text-anchor="middle" fill="#444">II</text>
<path d="M275.7 1123.0L294.3 1123.0" stroke="#888" stroke-width="0.6"/>
<text x="285.7" y="1135.0" font-size="7.5" text-anchor="middle" fill="#444">6:1</text>
</svg>
<svg class="a" style="left:600px;top:835px" width="300" height="230" viewBox="600 835 300 230" fill="none" font-family="Liberation Sans, sans-serif">
<path d="M642.4 1025.7L645.2 1023.3L648.0 1020.9L650.8 1018.5L653.7 1016.2L656.5 1013.8L659.3 1011.4L662.1 1009.0L664.9 1006.6L667.7 1004.2L670.5 1001.9L673.3 999.5L676.2 997.1L679.0 994.7L681.8 992.3L684.6 989.9L687.4 987.5L690.2 985.2L693.0 982.8L695.8 980.4L698.7 978.0L701.5 975.6L704.3 973.2L707.1 970.9L709.9 968.5L712.7 966.1L715.5 963.7L718.3 961.3L721.2 958.9L724.0 956.5L726.8 954.2L729.6 951.8L732.4 949.4L735.2 947.0L738.0 944.6L740.8 942.2L743.7 939.9L746.5 937.5L749.3 935.1L752.1 932.7L754.9 930.4L757.7 928.0L760.5 925.6L763.3 923.3L766.2 921.0L769.0 918.6L771.8 916.3L774.6 914.0L777.4 911.8L780.2 909.6L783.0 907.4L785.8 905.3L788.7 903.3L791.5 901.3L794.3 899.6L797.1 898.0L799.9 896.6L802.7 895.5L805.5 894.9L808.3 894.7L811.2 895.2L814.0 896.6L816.8 899.0L819.6 902.9L822.4 908.6L825.2 916.7L828.0 927.9L830.9 943.0L833.7 963.3L836.5 990.2L839.3 1025.7" stroke="#5c6078" stroke-width="0.8"/>
<path d="M642.4 1025.7L645.2 1023.8L648.0 1021.9L650.7 1020.0L653.5 1018.2L656.3 1016.3L659.1 1014.4L661.9 1012.5L664.7 1010.6L667.4 1008.7L670.2 1006.8L673.0 1005.0L675.8 1003.1L678.6 1001.2L681.4 999.3L684.1 997.4L686.9 995.5L689.7 993.6L692.5 991.7L695.3 989.9L698.1 988.0L700.8 986.1L703.6 984.2L706.4 982.3L709.2 980.4L712.0 978.5L714.8 976.7L717.5 974.8L720.3 972.9L723.1 971.0L725.9 969.1L728.7 967.2L731.5 965.3L734.2 963.5L737.0 961.6L739.8 959.7L742.6 957.8L745.4 955.9L748.1 954.1L750.9 952.2L753.7 950.3L756.5 948.4L759.3 946.6L762.1 944.7L764.8 942.9L767.6 941.0L770.4 939.2L773.2 937.4L776.0 935.6L778.8 933.9L781.5 932.2L784.3 930.5L787.1 928.9L789.9 927.4L792.7 926.0L795.5 924.8L798.2 923.7L801.0 922.9L803.8 922.4L806.6 922.3L809.4 922.8L812.2 923.9L814.9 925.8L817.7 929.0L820.5 933.5L823.3 940.0L826.1 948.8L828.9 960.8L831.6 976.7L834.4 997.9L837.2 1025.7" stroke="#e8747c" stroke-width="0.8"/>
<path d="M642.4 1025.7L645.1 1024.3L647.9 1022.9L650.6 1021.5L653.4 1020.1L656.1 1018.7L658.9 1017.3L661.6 1015.9L664.4 1014.5L667.1 1013.2L669.9 1011.8L672.6 1010.4L675.3 1009.0L678.1 1007.6L680.8 1006.2L683.6 1004.8L686.3 1003.4L689.1 1002.0L691.8 1000.6L694.6 999.2L697.3 997.8L700.1 996.4L702.8 995.0L705.5 993.6L708.3 992.2L711.0 990.8L713.8 989.5L716.5 988.1L719.3 986.7L722.0 985.3L724.8 983.9L727.5 982.5L730.3 981.1L733.0 979.7L735.7 978.3L738.5 976.9L741.2 975.5L744.0 974.1L746.7 972.7L749.5 971.4L752.2 970.0L755.0 968.6L757.7 967.2L760.5 965.8L763.2 964.5L765.9 963.1L768.7 961.8L771.4 960.5L774.2 959.1L776.9 957.9L779.7 956.6L782.4 955.4L785.2 954.2L787.9 953.1L790.7 952.1L793.4 951.2L796.2 950.4L798.9 949.9L801.6 949.5L804.4 949.5L807.1 949.9L809.9 950.7L812.6 952.2L815.4 954.6L818.1 958.0L820.9 962.8L823.6 969.3L826.4 978.2L829.1 989.9L831.8 1005.4L834.6 1025.7" stroke="#7a8fc0" stroke-width="0.8"/>
<path d="M642.4 1025.7L645.1 1024.8L647.8 1023.9L650.5 1023.0L653.2 1022.1L655.9 1021.1L658.6 1020.2L661.3 1019.3L664.0 1018.4L666.7 1017.5L669.4 1016.6L672.1 1015.7L674.8 1014.8L677.5 1013.8L680.2 1012.9L682.9 1012.0L685.6 1011.1L688.3 1010.2L691.0 1009.3L693.7 1008.4L696.4 1007.5L699.1 1006.5L701.8 1005.6L704.5 1004.7L707.2 1003.8L709.9 1002.9L712.6 1002.0L715.3 1001.1L718.0 1000.2L720.7 999.2L723.4 998.3L726.1 997.4L728.8 996.5L731.5 995.6L734.2 994.7L736.9 993.8L739.6 992.9L742.3 992.0L745.0 991.1L747.7 990.1L750.4 989.2L753.1 988.3L755.8 987.4L758.5 986.5L761.2 985.7L763.9 984.8L766.6 983.9L769.3 983.0L772.0 982.2L774.7 981.3L777.4 980.5L780.1 979.7L782.8 979.0L785.5 978.3L788.2 977.6L790.9 977.0L793.6 976.6L796.3 976.2L799.0 976.0L801.7 976.0L804.4 976.3L807.1 976.9L809.8 977.9L812.5 979.5L815.2 981.7L818.0 984.9L820.7 989.2L823.4 994.9L826.1 1002.6L828.8 1012.6L831.5 1025.7" stroke="#a0686a" stroke-width="0.8"/>
<path d="M642.4 1025.7L645.0 1025.3L647.6 1024.8L650.2 1024.4L652.8 1023.9L655.5 1023.5L658.1 1023.1L660.7 1022.6L663.3 1022.2L665.9 1021.8L668.5 1021.3L671.1 1020.9L673.7 1020.4L676.3 1020.0L679.0 1019.6L681.6 1019.1L684.2 1018.7L686.8 1018.3L689.4 1017.8L692.0 1017.4L694.6 1016.9L697.2 1016.5L699.8 1016.1L702.5 1015.6L705.1 1015.2L707.7 1014.8L710.3 1014.3L712.9 1013.9L715.5 1013.4L718.1 1013.0L720.7 1012.6L723.3 1012.1L726.0 1011.7L728.6 1011.2L731.2 1010.8L733.8 1010.4L736.4 1009.9L739.0 1009.5L741.6 1009.1L744.2 1008.6L746.9 1008.2L749.5 1007.8L752.1 1007.3L754.7 1006.9L757.3 1006.5L759.9 1006.1L762.5 1005.6L765.1 1005.2L767.7 1004.8L770.4 1004.4L773.0 1004.0L775.6 1003.7L778.2 1003.3L780.8 1003.0L783.4 1002.7L786.0 1002.4L788.6 1002.2L791.2 1002.1L793.9 1002.0L796.5 1002.0L799.1 1002.2L801.7 1002.5L804.3 1003.0L806.9 1003.8L809.5 1004.9L812.1 1006.4L814.7 1008.5L817.4 1011.3L820.0 1014.9L822.6 1019.6L825.2 1025.7" stroke="#7cba98" stroke-width="0.8"/>
<path d="M642.4 870.7L645.2 870.7L648.0 870.7L650.8 870.7L653.7 870.7L656.5 870.7L659.3 870.7L662.1 870.7L664.9 870.7L667.7 870.7L670.5 870.7L673.3 870.7L676.2 870.7L679.0 870.7L681.8 870.7L684.6 870.7L687.4 870.7L690.2 870.7L693.0 870.7L695.8 870.7L698.7 870.7L701.5 870.7L704.3 870.7L707.1 870.7L709.9 870.7L712.7 870.7L715.5 870.7L718.3 870.7L721.2 870.7L724.0 870.7L726.8 870.7L729.6 870.7L732.4 870.7L735.2 870.7L738.0 870.7L740.8 870.8L743.7 870.8L746.5 870.8L749.3 870.8L752.1 870.8L754.9 870.8L757.7 870.9L760.5 870.9L763.3 870.9L766.2 871.0L769.0 871.1L771.8 871.2L774.6 871.3L777.4 871.5L780.2 871.7L783.0 871.9L785.8 872.3L788.7 872.7L791.5 873.2L794.3 873.9L797.1 874.8L799.9 875.9L802.7 877.3L805.5 879.1L808.3 881.4L811.2 884.4L814.0 888.1L816.8 892.9L819.6 899.0L822.4 906.8L825.2 916.7L828.0 929.4L830.9 945.5L833.7 966.1L836.5 992.3L839.3 1025.7" stroke="#1d2146" stroke-width="1.3"/>
<path d="M642.4 901.8L645.2 901.8L648.0 901.8L650.7 901.8L653.5 901.8L656.3 901.8L659.1 901.8L661.9 901.8L664.7 901.8L667.4 901.8L670.2 901.8L673.0 901.8L675.8 901.8L678.6 901.8L681.4 901.8L684.1 901.8L686.9 901.8L689.7 901.8L692.5 901.8L695.3 901.8L698.1 901.8L700.8 901.8L703.6 901.8L706.4 901.8L709.2 901.8L712.0 901.8L714.8 901.8L717.5 901.8L720.3 901.8L723.1 901.8L725.9 901.8L728.7 901.8L731.5 901.8L734.2 901.8L737.0 901.8L739.8 901.8L742.6 901.8L745.4 901.8L748.1 901.9L750.9 901.9L753.7 901.9L756.5 901.9L759.3 901.9L762.1 902.0L764.8 902.0L767.6 902.1L770.4 902.2L773.2 902.3L776.0 902.4L778.8 902.6L781.5 902.8L784.3 903.1L787.1 903.4L789.9 903.9L792.7 904.4L795.5 905.2L798.2 906.1L801.0 907.2L803.8 908.7L806.6 910.6L809.4 913.0L812.2 916.0L814.9 919.9L817.7 924.8L820.5 931.1L823.3 939.1L826.1 949.2L828.9 962.0L831.6 978.4L834.4 999.2L837.2 1025.7" stroke="#d32b3a" stroke-width="1.3"/>
<path d="M642.4 932.9L645.1 932.9L647.9 932.9L650.6 932.9L653.4 932.9L656.1 932.9L658.9 932.9L661.6 932.9L664.4 932.9L667.1 932.9L669.9 932.9L672.6 932.9L675.3 932.9L678.1 932.9L680.8 932.9L683.6 932.9L686.3 932.9L689.1 932.9L691.8 932.9L694.6 932.9L697.3 932.9L700.1 932.9L702.8 932.9L705.5 932.9L708.3 932.9L711.0 932.9L713.8 932.9L716.5 932.9L719.3 932.9L722.0 932.9L724.8 932.9L727.5 932.9L730.3 932.9L733.0 932.9L735.7 932.9L738.5 932.9L741.2 932.9L744.0 932.9L746.7 932.9L749.5 932.9L752.2 933.0L755.0 933.0L757.7 933.0L760.5 933.0L763.2 933.1L765.9 933.1L768.7 933.2L771.4 933.3L774.2 933.4L776.9 933.5L779.7 933.7L782.4 933.9L785.2 934.2L787.9 934.5L790.7 935.0L793.4 935.5L796.2 936.2L798.9 937.1L801.6 938.3L804.4 939.7L807.1 941.5L809.9 943.9L812.6 946.8L815.4 950.5L818.1 955.3L820.9 961.2L823.6 968.8L826.4 978.5L829.1 990.6L831.8 1006.1L834.6 1025.7" stroke="#2b3a86" stroke-width="1.3"/>
<path d="M642.4 964.0L645.1 964.0L647.8 964.0L650.5 964.0L653.2 964.0L655.9 964.0L658.6 964.0L661.3 964.0L664.0 964.0L666.7 964.0L669.4 964.0L672.1 964.0L674.8 964.0L677.5 964.0L680.2 964.0L682.9 964.0L685.6 964.0L688.3 964.0L691.0 964.0L693.7 964.0L696.4 964.0L699.1 964.0L701.8 964.0L704.5 964.0L707.2 964.0L709.9 964.0L712.6 964.0L715.3 964.0L718.0 964.0L720.7 964.0L723.4 964.0L726.1 964.0L728.8 964.0L731.5 964.0L734.2 964.0L736.9 964.0L739.6 964.0L742.3 964.0L745.0 964.0L747.7 964.0L750.4 964.0L753.1 964.0L755.8 964.0L758.5 964.1L761.2 964.1L763.9 964.1L766.6 964.2L769.3 964.2L772.0 964.3L774.7 964.4L777.4 964.5L780.1 964.7L782.8 964.9L785.5 965.1L788.2 965.4L790.9 965.8L793.6 966.3L796.3 966.9L799.0 967.7L801.7 968.7L804.4 970.0L807.1 971.5L809.8 973.5L812.5 976.0L815.2 979.2L818.0 983.2L820.7 988.2L823.4 994.6L826.1 1002.7L828.8 1012.9L831.5 1025.7" stroke="#5a1a26" stroke-width="1.3"/>
<path d="M642.4 995.0L645.0 995.0L647.6 995.0L650.2 995.0L652.8 995.0L655.5 995.0L658.1 995.0L660.7 995.0L663.3 995.0L665.9 995.0L668.5 995.0L671.1 995.0L673.7 995.0L676.3 995.0L679.0 995.0L681.6 995.0L684.2 995.0L686.8 995.0L689.4 995.0L692.0 995.0L694.6 995.0L697.2 995.0L699.8 995.0L702.5 995.0L705.1 995.0L707.7 995.0L710.3 995.0L712.9 995.0L715.5 995.0L718.1 995.0L720.7 995.0L723.3 995.0L726.0 995.0L728.6 995.0L731.2 995.0L733.8 995.1L736.4 995.1L739.0 995.1L741.6 995.1L744.2 995.1L746.9 995.1L749.5 995.1L752.1 995.1L754.7 995.1L757.3 995.1L759.9 995.1L762.5 995.2L765.1 995.2L767.7 995.3L770.4 995.3L773.0 995.4L775.6 995.5L778.2 995.6L780.8 995.7L783.4 995.9L786.0 996.1L788.6 996.3L791.2 996.7L793.9 997.1L796.5 997.6L799.1 998.3L801.7 999.1L804.3 1000.1L806.9 1001.4L809.5 1003.0L812.1 1005.0L814.7 1007.5L817.4 1010.6L820.0 1014.6L822.6 1019.5L825.2 1025.7" stroke="#1d7a4c" stroke-width="1.3"/>
<rect x="642.4" y="857.7" width="208.9" height="168.0" stroke="#555" stroke-width="0.8"/>
<path d="M642.4 1025.7h3" stroke="#555" stroke-width="0.6"/>
<text x="638.9" y="1028.3" font-size="7.4" text-anchor="end" fill="#555">0</text>
<path d="M642.4 1017.3h1.8" stroke="#555" stroke-width="0.6"/>
<path d="M642.4 1008.9h3" stroke="#555" stroke-width="0.6"/>
<text x="638.9" y="1011.5" font-size="7.4" text-anchor="end" fill="#555">2</text>
<path d="M642.4 1000.5h1.8" stroke="#555" stroke-width="0.6"/>
<path d="M642.4 992.1h3" stroke="#555" stroke-width="0.6"/>
<text x="638.9" y="994.7" font-size="7.4" text-anchor="end" fill="#555">4</text>
<path d="M642.4 983.7h1.8" stroke="#555" stroke-width="0.6"/>
<path d="M642.4 975.3h3" stroke="#555" stroke-width="0.6"/>
<text x="638.9" y="977.9" font-size="7.4" text-anchor="end" fill="#555">6</text>
<path d="M642.4 966.9h1.8" stroke="#555" stroke-width="0.6"/>
<path d="M642.4 958.5h3" stroke="#555" stroke-width="0.6"/>
<text x="638.9" y="961.1" font-size="7.4" text-anchor="end" fill="#555">8</text>
<path d="M642.4 950.1h1.8" stroke="#555" stroke-width="0.6"/>
<path d="M642.4 941.7h3" stroke="#555" stroke-width="0.6"/>
<text x="638.9" y="944.3" font-size="7.4" text-anchor="end" fill="#555">10</text>
<path d="M642.4 933.3h1.8" stroke="#555" stroke-width="0.6"/>
<path d="M642.4 924.9h3" stroke="#555" stroke-width="0.6"/>
<text x="638.9" y="927.5" font-size="7.4" text-anchor="end" fill="#555">12</text>
<path d="M642.4 916.5h1.8" stroke="#555" stroke-width="0.6"/>
<path d="M642.4 908.1h3" stroke="#555" stroke-width="0.6"/>
<text x="638.9" y="910.7" font-size="7.4" text-anchor="end" fill="#555">14</text>
<path d="M642.4 899.7h1.8" stroke="#555" stroke-width="0.6"/>
<path d="M642.4 891.3h3" stroke="#555" stroke-width="0.6"/>
<text x="638.9" y="893.9" font-size="7.4" text-anchor="end" fill="#555">16</text>
<path d="M642.4 882.9h1.8" stroke="#555" stroke-width="0.6"/>
<path d="M642.4 874.5h3" stroke="#555" stroke-width="0.6"/>
<text x="638.9" y="877.1" font-size="7.4" text-anchor="end" fill="#555">18</text>
<path d="M642.4 866.1h1.8" stroke="#555" stroke-width="0.6"/>
<path d="M642.4 857.7h3" stroke="#555" stroke-width="0.6"/>
<text x="638.9" y="860.3" font-size="7.4" text-anchor="end" fill="#555">20</text>
<path d="M851.3 1025.7h-3" stroke="#555" stroke-width="0.6"/>
<text x="854.5" y="1028.3" font-size="7.4" fill="#555">0</text>
<path d="M851.3 1013.7h-1.8" stroke="#555" stroke-width="0.6"/>
<path d="M851.3 1001.7h-3" stroke="#555" stroke-width="0.6"/>
<text x="854.5" y="1004.3" font-size="7.4" fill="#555">100</text>
<path d="M851.3 989.7h-1.8" stroke="#555" stroke-width="0.6"/>
<path d="M851.3 977.7h-3" stroke="#555" stroke-width="0.6"/>
<text x="854.5" y="980.3" font-size="7.4" fill="#555">200</text>
<path d="M851.3 965.7h-1.8" stroke="#555" stroke-width="0.6"/>
<path d="M851.3 953.7h-3" stroke="#555" stroke-width="0.6"/>
<text x="854.5" y="956.3" font-size="7.4" fill="#555">300</text>
<path d="M851.3 941.7h-1.8" stroke="#555" stroke-width="0.6"/>
<path d="M851.3 929.7h-3" stroke="#555" stroke-width="0.6"/>
<text x="854.5" y="932.3" font-size="7.4" fill="#555">400</text>
<path d="M851.3 917.7h-1.8" stroke="#555" stroke-width="0.6"/>
<path d="M851.3 905.7h-3" stroke="#555" stroke-width="0.6"/>
<text x="854.5" y="908.3" font-size="7.4" fill="#555">500</text>
<path d="M851.3 893.7h-1.8" stroke="#555" stroke-width="0.6"/>
<path d="M851.3 881.7h-3" stroke="#555" stroke-width="0.6"/>
<text x="854.5" y="884.3" font-size="7.4" fill="#555">600</text>
<path d="M851.3 869.7h-1.8" stroke="#555" stroke-width="0.6"/>
<path d="M851.3 857.7h-3" stroke="#555" stroke-width="0.6"/>
<text x="854.5" y="860.3" font-size="7.4" fill="#555">700</text>
<path d="M642.4 1025.7v-3" stroke="#555" stroke-width="0.6"/>
<text x="642.4" y="1036.0" font-size="7.4" text-anchor="middle" fill="#555">0</text>
<path d="M668.5 1025.7v-1.8" stroke="#555" stroke-width="0.6"/>
<path d="M694.6 1025.7v-3" stroke="#555" stroke-width="0.6"/>
<text x="694.6" y="1036.0" font-size="7.4" text-anchor="middle" fill="#555">10</text>
<path d="M720.7 1025.7v-1.8" stroke="#555" stroke-width="0.6"/>
<path d="M746.9 1025.7v-3" stroke="#555" stroke-width="0.6"/>
<text x="746.9" y="1036.0" font-size="7.4" text-anchor="middle" fill="#555">20</text>
<path d="M773.0 1025.7v-1.8" stroke="#555" stroke-width="0.6"/>
<path d="M799.1 1025.7v-3" stroke="#555" stroke-width="0.6"/>
<text x="799.1" y="1036.0" font-size="7.4" text-anchor="middle" fill="#555">30</text>
<path d="M825.2 1025.7v-1.8" stroke="#555" stroke-width="0.6"/>
<path d="M851.3 1025.7v-3" stroke="#555" stroke-width="0.6"/>
<text x="851.3" y="1036.0" font-size="7.4" text-anchor="middle" fill="#555">40</text>
<text x="650" y="852.3" font-size="7.2" fill="#555" textLength="194" lengthAdjust="spacingAndGlyphs">Akım - Voltaj &amp; Güç - Voltaj Grafiği (CWT545-108PM12)</text>
<text x="747" y="1050" font-size="9.2" font-weight="bold" text-anchor="middle" fill="#333">Voltaj (V)</text>
<text x="619.5" y="936" font-size="8.4" font-weight="bold" text-anchor="middle" fill="#333" transform="rotate(-90 619.5 936)">Akım (A)</text>
<text x="877" y="942.5" font-size="8.4" font-weight="bold" text-anchor="middle" fill="#333" transform="rotate(-90 877 942.5)">Güç (W)</text>
<text x="648.5" y="869" font-size="8.6" font-weight="bold" fill="#222" font-family="Liberation Serif, serif">1000 W/m<tspan font-size="5.2" dy="-3">2</tspan></text>
<text x="647.5" y="900.8" font-size="8.6" font-weight="bold" fill="#222" font-family="Liberation Serif, serif">800 W/m<tspan font-size="5.2" dy="-3">2</tspan></text>
<text x="647.5" y="932.4" font-size="8.6" font-weight="bold" fill="#222" font-family="Liberation Serif, serif">600 W/m<tspan font-size="5.2" dy="-3">2</tspan></text>
<text x="647.5" y="961.6" font-size="8.6" font-weight="bold" fill="#222" font-family="Liberation Serif, serif">400 W/m<tspan font-size="5.2" dy="-3">2</tspan></text>
<text x="647.5" y="993" font-size="8.6" font-weight="bold" fill="#222" font-family="Liberation Serif, serif">200 W/m<tspan font-size="5.2" dy="-3">2</tspan></text>
</svg>

</body></html>
